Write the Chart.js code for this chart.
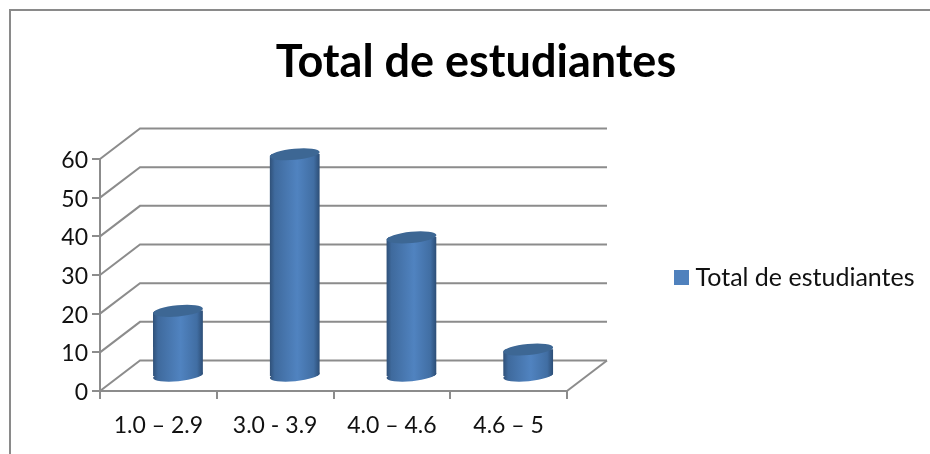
<!DOCTYPE html>
<html><head><meta charset="utf-8">
<style>html,body{margin:0;padding:0;background:#fff;overflow:hidden}#w{width:930px;height:454px;position:relative}canvas{display:block}</style>
<script src="https://cdn.jsdelivr.net/npm/chart.js@4/dist/chart.umd.min.js"></script>
</head><body><div id="w"><canvas id="c" width="930" height="454"></canvas></div>
<script>
const chartTitle = "Total de estudiantes";
const categories = ["1.0 – 2.9", "3.0 - 3.9", "4.0 – 4.6", "4.6 – 5"];
const seriesName = "Total de estudiantes";
const values = [17, 57.5, 36, 7];
const yMax = 60, yStep = 10;

const FONT = "Lato";
const AXIS = "#8c8c8c";
const DEPTH = {x: 40, y: -30.5};
const BAR_SHIFT = {x: 19.6, y: -14.4};
const RX_RATIO = 0.5, RY = 5.6, ROT = -0.095;
const LEGEND_SIZE = 25, TICK_SIZE = 23;
const canvas = document.getElementById("c");

function barGradient(ctx, cx, w) {
  const g = ctx.createLinearGradient(cx - w / 2, 0, cx + w / 2, 0);
  g.addColorStop(0, "#2f5078");
  g.addColorStop(0.1, "#3f6a9d");
  g.addColorStop(0.55, "#5083c0");
  g.addColorStop(0.88, "#416ea3");
  g.addColorStop(1, "#2c4d75");
  return g;
}

const walls = {
  id: "walls",
  beforeDraw(chart) {
    const c = chart.ctx;
    c.save();
    c.fillStyle = "#fff"; c.fillRect(0, 0, chart.width, chart.height);
    c.strokeStyle = "#8a8a8a"; c.lineWidth = 2;
    c.beginPath(); c.moveTo(10, 454); c.lineTo(10, 10); c.lineTo(930, 10); c.stroke();
    c.restore();
  },
  beforeDatasetsDraw(chart) {
    const c = chart.ctx, y = chart.scales.y, a = chart.chartArea;
    c.save();
    c.strokeStyle = AXIS; c.lineWidth = 2; c.lineJoin = "miter";
    y.ticks.forEach(t => {
      const p = y.getPixelForValue(t.value);
      c.beginPath();
      c.moveTo(a.left, p);
      c.lineTo(a.left + DEPTH.x, p + DEPTH.y);
      c.lineTo(a.right + DEPTH.x, p + DEPTH.y);
      c.stroke();
    });
    const b = y.getPixelForValue(0);
    c.beginPath();
    c.moveTo(a.right, b);
    c.lineTo(a.right + DEPTH.x, b + DEPTH.y);
    c.stroke();
    c.restore();
  }
};

const cylinders = {
  id: "cylinders",
  beforeDatasetDraw(chart, args) {
    const c = chart.ctx, els = chart.getDatasetMeta(args.index).data;
    c.save();
    c.translate(BAR_SHIFT.x, BAR_SHIFT.y);
    c.beginPath();
    els.forEach(el => {
      const rx = el.width * RX_RATIO;
      c.moveTo(el.x - rx, el.y);
      c.ellipse(el.x, el.y, rx, RY, ROT, Math.PI, 2 * Math.PI);
      c.ellipse(el.x, el.base, rx, RY, ROT, 0, Math.PI);
      c.closePath();
    });
    c.clip();
  },
  afterDatasetDraw(chart, args) {
    const c = chart.ctx, els = chart.getDatasetMeta(args.index).data;
    c.restore();
    c.save();
    c.translate(BAR_SHIFT.x, BAR_SHIFT.y);
    els.forEach(el => {
      const rx = el.width * RX_RATIO;
      c.fillStyle = barGradient(c, el.x, el.width);
      c.beginPath();
      c.ellipse(el.x, el.base, rx, RY, ROT, 0, 2 * Math.PI);
      c.fill();
      c.fillStyle = "#3d6794";
      c.beginPath();
      c.ellipse(el.x, el.y, rx, RY, ROT, 0, 2 * Math.PI);
      c.fill();
    });
    c.restore();
  }
};

const placeBoxes = {
  id: "placeBoxes",
  afterLayout(chart) {
    chart.titleBlock.left = 22;
    chart.titleBlock.right = 930;
    chart.legend.left = 670;
    chart.legend.right = 930;
    chart.legend.top = 255;
    chart.legend.bottom = 330;
  }
};

new Chart(canvas, {
  type: "bar",
  data: {
    labels: categories,
    datasets: [{
      label: seriesName,
      data: values,
      barThickness: 50,
      backgroundColor(ctx) {
        const s = ctx.chart.scales.x;
        const px = s && ctx.dataIndex !== undefined ? s.getPixelForValue(ctx.dataIndex) : NaN;
        if (!Number.isFinite(px)) return "#4f81bd";
        return barGradient(ctx.chart.ctx, px, 50);
      }
    }]
  },
  options: {
    responsive: false,
    animation: false,
    layout: {padding: {left: 0, right: 174, top: 0, bottom: 0}},
    scales: {
      x: {
        afterFit(s) { s.height = 63; },
        grid: {offset: true, drawOnChartArea: false, drawTicks: true, tickLength: 8, color: AXIS, lineWidth: 2},
        border: {color: AXIS, width: 2},
        ticks: {color: "#111", font: {family: FONT, size: TICK_SIZE}, padding: 13, maxRotation: 0, autoSkip: false}
      },
      y: {
        min: 0, max: yMax,
        afterFit(s) { s.width = 100; },
        grid: {drawOnChartArea: false, drawTicks: true, tickLength: 8, color: AXIS, lineWidth: 2},
        border: {color: AXIS, width: 2},
        ticks: {stepSize: yStep, color: "#111", font: {family: FONT, size: TICK_SIZE}, padding: 4, labelOffset: 1.5}
      }
    },
    plugins: {
      tooltip: {enabled: false},
      title: {
        display: true, text: chartTitle, color: "#000",
        font: {family: FONT, size: 45, weight: "bold", lineHeight: 1.2},
        padding: {top: 35, bottom: 70}
      },
      legend: {
        display: true, position: "right", align: "start",
        labels: {
          color: "#111", font: {family: FONT, size: LEGEND_SIZE},
          boxWidth: 3, boxHeight: 3, padding: 10,
          generateLabels(chart) {
            return Chart.defaults.plugins.legend.labels.generateLabels(chart).map(l =>
              Object.assign(l, {fillStyle: "#4f81bd", strokeStyle: "#4f81bd", lineWidth: 12}));
          }
        }
      }
    }
  },
  plugins: [walls, cylinders, placeBoxes]
});
</script></body></html>
